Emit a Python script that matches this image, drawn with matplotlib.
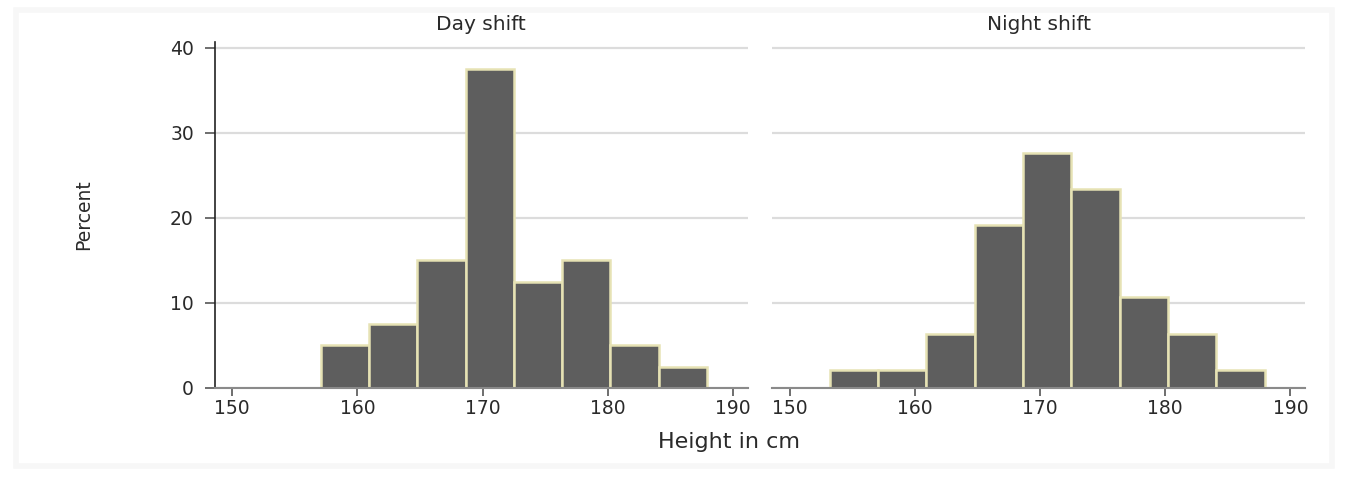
import numpy as np
import matplotlib
matplotlib.use('Agg')
import matplotlib.pyplot as plt

# histogram bins (Stata style: start 153.2, width ~3.86)
bin_start = 153.2
bin_width = 3.86

day_pct = [0, 5.0, 7.5, 15.0, 37.5, 12.5, 15.0, 5.0, 2.5]
night_pct = [2.13, 2.13, 6.38, 19.15, 27.66, 23.40, 10.64, 6.38, 2.13]

panel_titles = ['Day shift', 'Night shift']
x_ticks = [150, 160, 170, 180, 190]
y_ticks = [0, 10, 20, 30, 40]

bar_color = '#5e5e5e'
edge_color = '#e6e2b4'
text_color = '#2a2a2a'

plt.rcParams['font.family'] = ['DejaVu Sans']

fig = plt.figure(figsize=(13.5, 4.8), dpi=100)
fig.patch.set_facecolor('white')

# faint outer frame
frame = plt.Rectangle((0.012, 0.03), 0.975, 0.95, transform=fig.transFigure,
                      facecolor='none', edgecolor='#f7f7f7', linewidth=4, zorder=0)
fig.patches.append(frame)

ax1 = fig.add_axes([0.159, 0.192, 0.395, 0.7205])
ax2 = fig.add_axes([0.572, 0.192, 0.395, 0.7205])

for ax, vals, title in zip([ax1, ax2], [day_pct, night_pct], panel_titles):
    edges = bin_start + bin_width * np.arange(len(vals))
    heights = np.array(vals)
    mask = heights > 0
    ax.bar(edges[mask], heights[mask], width=bin_width, align='edge',
           color=bar_color, edgecolor=edge_color, linewidth=1.8, zorder=3)
    ax.set_xlim(148.6, 191.2)
    ax.set_ylim(0, 40.7)
    ax.set_xticks(x_ticks)
    ax.set_yticks(y_ticks)
    ax.yaxis.grid(True, color='#dcdcdc', linewidth=1.6, zorder=0)
    ax.set_axisbelow(True)
    for s in ['top', 'right']:
        ax.spines[s].set_visible(False)
    ax.spines['bottom'].set_color('#8a8a8a')
    ax.spines['bottom'].set_linewidth(1.5)
    ax.spines['bottom'].set_zorder(4)
    ax.tick_params(axis='x', length=6, width=1.2, color='#555555',
                   labelsize=13.5, labelcolor=text_color, pad=2)
    ax.tick_params(axis='y', length=7, width=1.2, color='#555555',
                   labelsize=13.5, labelcolor=text_color, pad=8)
    ax.set_title(title, fontsize=14.5, color=text_color, pad=9)

ax1.spines['left'].set_color('#222222')
ax1.spines['left'].set_linewidth(1.2)
ax2.spines['left'].set_visible(False)
ax2.tick_params(axis='y', left=False, labelleft=False)

fig.text(0.062, 0.553, 'Percent', rotation=90, fontsize=13.5, color=text_color,
         ha='center', va='center')
fig.text(0.54, 0.079, 'Height in cm', fontsize=16, color=text_color,
         ha='center', va='center')

fig.savefig('out.png', dpi=100, facecolor='white')
